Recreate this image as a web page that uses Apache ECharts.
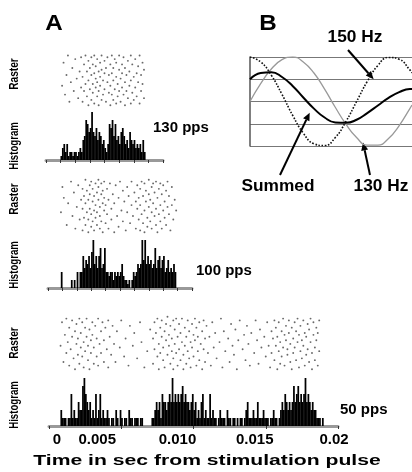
<!DOCTYPE html>
<html><head><meta charset="utf-8">
<script src="https://cdn.jsdelivr.net/npm/echarts/dist/echarts.min.js"></script>
<style>html,body{margin:0;padding:0;background:#fff}#c{width:412px;height:472px}</style>
</head><body><div id="c"></div>
<script>
// ---------- DATA ----------
// Histograms: spike counts in 0.1 ms bins, first bin start (ms)
const hist130Start = 1.0;
const hist130 = [1,3,4,2,4,1,2,2,1,2, 2,1,2,3,2,5,6,10,9,7, 8,12,7,6,8,5,7,6,4,5,
  3,2,4,9,8,10,6,9,5,6, 4,7,8,6,4,5,3,7,5,4, 5,3,4,3,4,2,5,2];
const hist100Start = 0.9;
const hist100 = [4, 0,0,0,0,0,0,2,0,2,0, 4,0,4,4,8,5,7,6,8,5, 9,12,6,8,5,8,10,5,6,10,
  4,4,3,4,4,2,4,3,4,3, 4,6,3,2,2,1,2,0,2,4, 3,4,6,5,6,12,7,12,6,8,
  6,7,5,6,10,5,7,8,5,7, 8,4,5,7,4,5,4,6,4];
const hist50Start = 0.8;
const hist50 = [4,2,
  2,2,0,2,2,8,2,4,2,2, 6,4,4,10,12,8,6,4,6,2, 4,2,8,2,4,8,2,4,2,2,
  4,2,0,2,2,0,4,2,0,4, 2,0,2,2,0,4,2,2,0,2, 2,2,0,2,2,0,0,0,0,0,
  0,2,2,4,6,4,6,2,8,6, 6,4,6,8,6,12,6,8,6,8, 6,8,10,6,8,6,6,4,6,8,
  4,6,2,4,2,6,8,2,4,2, 2,8,2,4,2,2,0,2,4,2, 2,2,0,4,2,2,0,2,2,0,
  2,0,2,2,0,2,4,6,2,2, 2,4,2,2,6,2,2,2,4,2, 2,2,0,2,2,4,2,2,0,2,
  4,6,4,8,6,4,6,4,6,10, 6,8,10,6,8,6,8,12,6,8, 6,4,6,4,4,2,2,2,0,2];

// Rasters: [time in 0.1 ms units, trial]
const raster130 = [[11,12],[12,25],[13,7],[14,18],[15,29],[16,3],[17,14],[18,22],[19,9],[20,27],[21,16],[22,5],[23,20],[24,11],[24,28],
[25,3],[25,17],[26,24],[26,9],[27,13],[27,29],[28,6],[28,20],[29,1],[29,15],[29,26],[30,10],[30,22],[31,4],[31,18],[31,28],[32,8],[32,13],[32,24],[33,2],[33,19],[33,29],[34,11],[34,16],[34,23],[35,6],[35,27],[35,14],[36,1],[36,20],[36,9],[37,25],[37,12],[37,17],[38,4],[38,29],[38,21],[39,7],[39,15],[40,26],[40,10],[40,19],
[41,3],[41,22],[42,14],[42,28],[43,8],[43,18],
[44,1],[44,12],[44,24],[45,7],[45,19],[45,29],[46,15],[46,4],[46,22],[47,10],[47,27],[48,2],[48,17],[48,25],[49,13],[49,6],[50,21],[50,29],[50,9],[51,16],[51,3],[52,24],[52,11],[52,19],[53,7],[53,28],[54,14],[54,1],[54,22],[55,9],[55,18],[56,26],[56,5],[57,12],[57,20],[58,2],[58,29],[58,15],[59,8],[59,24],[60,17],[60,4],
[61,27],[61,11],[62,19],[62,6],[63,23],[63,14],[64,2],[64,29],[65,9],[65,18],[66,25],[66,13],[67,5],[67,21]];
const raster100 = [[9,12],[10,26],[11,20],[13,5],[14,17],[16,29],[17,10],[18,23],[19,3],[20,15],[21,27],[22,8],[23,19],
[24,2],[24,14],[24,25],[25,9],[25,21],[26,30],[26,5],[26,17],[27,12],[27,24],[28,1],[28,19],[28,8],[29,27],[29,14],[29,22],[30,4],[30,11],[30,29],[31,18],[31,7],[31,25],[32,13],[32,2],[32,21],[33,28],[33,16],[33,9],[34,23],[34,5],[34,12],[35,30],[35,19],[35,26],[36,3],[36,15],[36,10],[37,22],[37,28],[37,7],[38,17],[38,1],[38,24],[39,13],[39,20],[39,29],[40,6],[40,16],
[41,25],[41,11],[42,3],[42,19],[43,28],[44,14],[44,8],[45,22],[46,1],[46,17],[47,27],[48,10],[49,20],[49,4],[50,29],[51,13],[52,24],[52,7],[53,18],[54,2],[55,26],[55,12],[56,21],[57,6],[58,16],[58,29],[59,10],[60,23],[61,3],[61,18],
[62,14],[62,27],[63,8],[63,20],[64,2],[64,25],[64,16],[65,11],[65,29],[66,6],[66,21],[67,13],[67,28],[67,1],[68,18],[68,24],[69,9],[69,4],[70,15],[70,30],[70,22],[71,7],[71,19],[72,12],[72,26],[72,3],[73,17],[73,28],[74,10],[74,23],[75,5],[75,14],[75,29],[76,20],[76,1],[77,25],[77,11],[78,16],[78,7],[78,28],[79,22],[79,3],[80,13],[80,27],[81,9],[81,18],[82,24],[82,5],[83,15],[83,29],
[84,11],[84,21],[85,2],[86,26],[86,16],[87,8],[88,19],[89,13]];
const raster50 = [[8,14],[9,27],[10,5],[11,20],[12,10],[12,29],[13,16],[14,3],[14,24],[15,12],[16,19],[16,28],[17,7],[18,22],[18,1],[19,15],[19,26],[20,9],[20,18],[21,29],[21,4],[22,13],[22,21],[23,8],[23,27],[24,16],[24,2],[25,24],[25,11],[26,19],[26,29],[27,6],[27,14],[28,23],[28,1],[29,17],[29,10],[30,27],[30,20],[31,4],[31,13],[32,25],[33,8],[33,18],[34,29],[34,3],[35,15],[36,22],[36,10],[37,27],[38,5],[38,17],[39,24],[40,12],[41,28],[41,2],[42,19],[43,9],[44,25],[45,15],
[46,5],[47,22],[49,13],[50,28],[52,8],[53,18],[55,3],[56,25],[58,14],[59,21],[61,7],[63,27],[64,16],[66,2],[68,11],[70,23],
[72,18],[72,4],[73,27],[73,12],[74,21],[75,8],[75,29],[76,15],[76,1],[77,24],[77,10],[78,19],[78,28],[79,6],[79,13],[80,22],[80,2],[81,17],[81,26],[82,9],[82,30],[83,14],[83,20],[84,4],[84,25],[85,11],[85,18],[86,28],[86,1],[86,7],[87,23],[87,15],[88,10],[88,29],[89,3],[89,19],[90,26],[90,12],[91,6],[91,21],[92,16],[92,29],[93,1],[93,9],[94,24],[94,14],[95,19],[95,4],[96,28],[96,11],[97,22],[97,7],[98,16],[98,2],[99,26],[99,13],[100,20],[100,8],[101,29],[101,17],[102,3],[102,24],[103,11],[103,19],[104,27],[104,6],[105,15],[106,22],[106,1],[107,12],[107,28],[108,18],[108,5],[109,25],[110,10],
[111,19],[112,3],[113,27],[114,13],[115,21],[116,7],[118,16],[119,29],[120,2],[121,22],[122,11],[124,18],[125,5],[126,26],[127,14],[128,9],[129,23],[130,1],[131,17],[132,28],[134,12],[135,20],[136,6],[137,25],[138,15],[139,3],[140,21],[142,10],[143,28],[144,17],[145,4],[146,23],[147,13],[149,19],[150,8],[151,27],[152,14],
[153,2],[154,22],[154,10],[155,18],[156,28],[156,6],[157,14],[157,24],[158,1],[158,19],[159,11],[159,27],[160,4],[160,16],[161,22],[161,8],[162,29],[162,13],[163,20],[163,3],[164,25],[164,17],[165,9],[165,12],[166,28],[166,21],[167,5],[167,15],[168,24],[168,1],[169,18],[169,10],[170,27],[170,13],[171,22],[171,6],[172,16],[172,29],[173,2],[173,20],[174,11],[174,25],[175,7],[175,17],[176,28],[176,14],[177,21],[177,3],[178,9],[178,19],[179,26],[179,12],[180,5],[180,23],[181,16],[181,29],[182,1],[182,10],[183,20],[183,27],[184,13],[184,6],[185,24],[185,17],[186,3],[186,21],[187,11],[187,28]];

// Panel B waveforms (time in ms, normalized amplitude)
const waveTimes = [0,0.5,1.0,1.5,2.0,2.5,3.0,3.5,4.0,4.5,5.0,5.5,6.0,6.5,7.0,7.5,7.6];
const wave130 = [0,0.40,0.73,0.94,1.00,0.89,0.64,0.28,-0.13,-0.51,-0.81,-0.98,-0.98,-0.83,-0.54,-0.16,-0.08];
const wave150 = [1,0.89,0.59,0.16,-0.31,-0.71,-0.95,-0.99,-0.81,-0.45,0.00,0.45,0.81,0.99,0.95,0.71,0.64];
const waveSum = [0.50,0.64,0.66,0.55,0.35,0.09,-0.16,-0.36,-0.47,-0.48,-0.41,-0.26,-0.09,0.08,0.21,0.28,0.28];

const xTickLabels = ['0','0.005','0.010','0.015','0.02'];
const panelLabels = ['130 pps','100 pps','50 pps'];

// ---------- BUILD ----------
const FONT = '"Liberation Sans", Arial, sans-serif';
const binMs = 0.1;
const histData = (start, arr) => arr.map((v,i) => [(start + (i+0.5)*binMs)/1000, v]);
const rasterData = arr => arr.map(p => [p[0]/10000, p[1]]);

const P = [
  {left:46, width:117, rTop:52,  rH:55, hTop:112, hH:48, max:0.008, hist:histData(hist130Start,hist130), ras:rasterData(raster130)},
  {left:48, width:144, rTop:178, rH:56, hTop:240, hH:48, max:0.010, hist:histData(hist100Start,hist100), ras:rasterData(raster100)},
  {left:49, width:289, rTop:315, rH:56, hTop:378, hH:48, max:0.020, hist:histData(hist50Start,hist50), ras:rasterData(raster50)}
];

const grid=[], xAxis=[], yAxis=[], series=[];
const shift = [8,-24,-16,-11,-4];
const rich = {};
shift.forEach((s,i)=>{ rich['p'+i] = {fontFamily:FONT, fontWeight:'bold', fontSize:15, color:'#000',
  padding: s>0 ? [0,0,0,2*s] : [0,-2*s,0,0]}; });

P.forEach((p,k)=>{
  const last = k===2;
  grid.push({left:p.left, top:p.rTop, width:p.width, height:p.rH});
  grid.push({left:p.left, top:p.hTop, width:p.width, height:p.hH});
  xAxis.push({type:'value', gridIndex:2*k, min:0, max:p.max, show:false});
  xAxis.push({type:'value', gridIndex:2*k+1, min:0, max:p.max, interval: last?0.005:0.001,
    axisLine:{show:true, onZero:false, lineStyle:{color:'#999', width:3}},
    axisTick:{show:true, length:3, lineStyle:{color:'#333', width:1}},
    splitLine:{show:false},
    axisLabel: last ? {show:true, margin:6, showMinLabel:true, showMaxLabel:true,
      formatter: v => { const i=Math.round(v/0.005); return '{p'+i+'|'+xTickLabels[i]+'}'; }, rich} : {show:false}
  });
  yAxis.push({type:'value', gridIndex:2*k, min:0, max:31, show:false});
  yAxis.push({type:'value', gridIndex:2*k+1, min:0, max:12, show:false});
  series.push({type:'scatter', xAxisIndex:2*k, yAxisIndex:2*k, data:p.ras, symbolSize:1.9,
    itemStyle:{color:'#444'}, silent:true});
  series.push({type:'bar', xAxisIndex:2*k+1, yAxisIndex:2*k+1, data:p.hist, barWidth:1.75,
    itemStyle:{color:'#000'}, silent:true});
});

// Panel B
grid.push({left:250, top:57, width:162, height:89});
xAxis.push({type:'value', gridIndex:6, min:0, max:7.6, show:false});
yAxis.push({type:'value', gridIndex:6, min:-1, max:1, interval:0.5,
  axisLine:{show:true, lineStyle:{color:'#555', width:1.5}}, axisTick:{show:false}, axisLabel:{show:false},
  splitLine:{show:true, lineStyle:{color:'#777', width:1}}});
const wv = arr => waveTimes.map((t,i)=>[t, arr[i]]);
series.push({type:'line', xAxisIndex:6, yAxisIndex:6, data:wv(wave130), smooth:true, showSymbol:false,
  lineStyle:{color:'#999', width:1.3}});
series.push({type:'line', xAxisIndex:6, yAxisIndex:6, data:wv(wave150), smooth:true, showSymbol:false,
  lineStyle:{color:'#111', width:1.6, type:'dotted'}});
series.push({type:'line', xAxisIndex:6, yAxisIndex:6, data:wv(waveSum), smooth:true, showSymbol:false,
  lineStyle:{color:'#000', width:2}});

const chart = echarts.init(document.getElementById('c'), null, {renderer:'canvas'});
chart.setOption({animation:false, backgroundColor:'#fff', grid, xAxis, yAxis, series});

// ---------- ANNOTATIONS ----------
const txt = (text, x, y, size, opts={}) => {
  const el = {type:'text', x, y,
    style:{text, font:'bold '+size+'px '+FONT, fill:'#000', align: opts.align||'center', verticalAlign:'middle',
      textAlign: opts.align||'center', textVerticalAlign:'middle'}};
  if (opts.rot) el.rotation = opts.rot;
  if (opts.sx) el.scaleX = opts.sx;
  return el;
};
const g = [];
g.push(txt('A', 54, 24, 22, {sx:1.1}));
g.push(txt('B', 268, 24, 22, {sx:1.1}));
const rl = [[74,146],[199,265],[343,405]];
rl.forEach(r=>{ g.push(txt('Raster', 14, r[0], 13, {rot:Math.PI/2, sx:0.78})); g.push(txt('Histogram', 14, r[1], 13, {rot:Math.PI/2, sx:0.74})); });
g.push(txt(panelLabels[0], 153, 128, 15, {align:'left'}));
g.push(txt(panelLabels[1], 196, 271, 15, {align:'left'}));
g.push(txt(panelLabels[2], 340, 410, 15, {align:'left'}));
g.push(txt('Time in sec from stimulation pulse', 207, 461, 15, {sx:1.41}));
g.push(txt('150 Hz', 355, 38, 16, {sx:1.08}));
g.push(txt('Summed', 278, 187, 16, {sx:1.08}));
g.push(txt('130 Hz', 381, 187, 16, {sx:1.08}));

function arrow(tail, headData){
  const h = chart.convertToPixel({xAxisIndex:6, yAxisIndex:6}, headData);
  const dx=h[0]-tail[0], dy=h[1]-tail[1], L=Math.hypot(dx,dy), ux=dx/L, uy=dy/L, nx=-uy, ny=ux;
  const hl=8, hw=3.5;
  const bx=h[0]-ux*hl, by=h[1]-uy*hl;
  g.push({type:'line', shape:{x1:tail[0], y1:tail[1], x2:bx, y2:by}, style:{stroke:'#000', lineWidth:2}});
  g.push({type:'polygon', shape:{points:[[h[0],h[1]],[bx+nx*hw,by+ny*hw],[bx-nx*hw,by-ny*hw]]}, style:{fill:'#000'}});
}
arrow([348,50],[5.8,0.5]);
arrow([280,175],[2.8,-0.25]);
arrow([370,175],[5.3,-0.92]);
chart.setOption({graphic:g});
</script></body></html>
